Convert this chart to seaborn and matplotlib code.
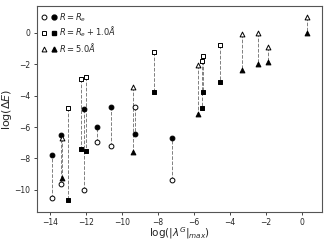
import numpy as np
import pandas as pd
import matplotlib
matplotlib.use("Agg")
import matplotlib.pyplot as plt
import seaborn as sns
from matplotlib.lines import Line2D
from matplotlib.legend_handler import HandlerTuple

# Data
circle_x      = [-13.90, -13.39, -12.09, -11.41, -10.61, -9.28, -7.24]
circle_open   = [-10.55, -9.64, -10.02, -6.94, -7.20, -4.73, -9.38]
circle_filled = [-7.79, -6.52, -4.87, -5.99, -4.75, -6.47, -6.69]

square_x      = [-12.98, -12.30, -12.02, -8.22, -5.57, -5.48, -4.56]
square_open   = [-4.82, -2.95, -2.84, -1.21, -1.82, -1.50, -0.80]
square_filled = [-10.66, -7.41, -7.52, -3.80, -4.82, -3.76, -3.11]

tri_x      = [-13.32, -9.41, -5.76, -3.35, -2.46, -1.91, 0.26]
tri_open   = [-6.73, -3.48, -2.06, -0.08, -0.04, -0.89, 0.98]
tri_filled = [-9.27, -7.58, -5.18, -2.38, -1.99, -1.89, -0.04]

labels = [r"$R = R_e$", r"$R = R_e + 1.0\AA$", r"$R = 5.0\AA$"]
markers = ["o", "s", "^"]

rows = []
for lab, mk, xs, yo, yf in zip(labels, markers,
                               [circle_x, square_x, tri_x],
                               [circle_open, square_open, tri_open],
                               [circle_filled, square_filled, tri_filled]):
    for x, a, b in zip(xs, yo, yf):
        rows.append(dict(group=lab, marker=mk, x=x, open=a, filled=b))
df = pd.DataFrame(rows)

sns.set_theme(style="ticks")
plt.rcParams['font.family'] = ['DejaVu Sans']

fig, ax = plt.subplots(figsize=(3.29, 2.44), dpi=100)
fig.subplots_adjust(left=0.1115, right=0.978, top=0.975, bottom=0.132)

ax.vlines(df["x"], df["open"], df["filled"], colors="grey", linestyles="--",
          linewidth=0.7, zorder=1)

for lab, mk in zip(labels, markers):
    sub = df[df["group"] == lab]
    sns.scatterplot(x=sub["x"], y=sub["open"], marker=mk, s=12,
                    facecolor="white", edgecolor="black", linewidth=0.7,
                    ax=ax, zorder=3)
    sns.scatterplot(x=sub["x"], y=sub["filled"], marker=mk, s=12,
                    color="black", edgecolor="black", linewidth=0.7,
                    ax=ax, zorder=3)

ax.set_xlim(-14.74, 1.09)
ax.set_ylim(-11.4, 1.70)
ax.set_xticks([-14, -12, -10, -8, -6, -4, -2, 0])
ax.set_yticks([0, -2, -4, -6, -8, -10])
ax.tick_params(labelsize=5.5, length=2.5, width=0.6, pad=2)
for s in ax.spines.values():
    s.set_linewidth(0.8)
    s.set_color("#555555")

ax.set_xlabel(r"log($|\lambda^G|_{max}$)", fontsize=7.5, labelpad=-1)
ax.set_ylabel(r"log($\Delta E$)", fontsize=8, labelpad=0)

handles = []
for mk in markers:
    h_open = Line2D([], [], marker=mk, linestyle="none", markersize=3.5,
                    markerfacecolor="white", markeredgecolor="black", markeredgewidth=0.7)
    h_fill = Line2D([], [], marker=mk, linestyle="none", markersize=3.5,
                    markerfacecolor="black", markeredgecolor="black")
    handles.append((h_open, h_fill))
ax.legend(handles, labels, handler_map={tuple: HandlerTuple(ndivide=None, pad=0.6)},
          loc="upper left", frameon=False, fontsize=6, handlelength=1.8,
          handletextpad=0.3, labelspacing=0.15, borderaxespad=0.2)

fig.savefig("out.png", dpi=100)
